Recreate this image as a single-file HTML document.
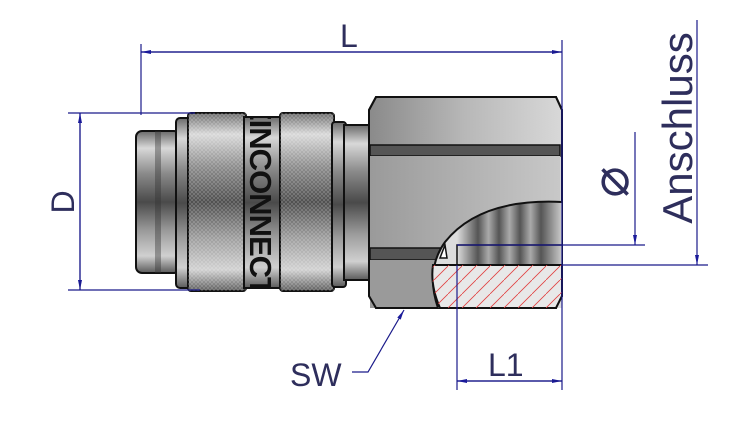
<!DOCTYPE html>
<html><head><meta charset="utf-8"><style>
html,body{margin:0;padding:0;background:#fff;}
svg{display:block}
text{font-family:"Liberation Sans",sans-serif;fill:#2e2e5c}
</style></head><body>
<svg width="752" height="423" viewBox="0 0 752 423" xmlns="http://www.w3.org/2000/svg">
<defs>
<linearGradient id="cyl" x1="0" y1="0" x2="0" y2="1">
<stop offset="0" stop-color="#6a6a6a"/><stop offset="0.12" stop-color="#d8d8d8"/><stop offset="0.3" stop-color="#8a8a8a"/><stop offset="0.5" stop-color="#4a4a4a"/><stop offset="0.7" stop-color="#9a9a9a"/><stop offset="0.88" stop-color="#d0d0d0"/><stop offset="1" stop-color="#5a5a5a"/>
</linearGradient>
<linearGradient id="hexg" x1="0" y1="0" x2="1" y2="0">
<stop offset="0" stop-color="#8a8a8a"/><stop offset="0.5" stop-color="#b8b8b8"/><stop offset="1" stop-color="#d8d8d8"/>
</linearGradient>
<linearGradient id="hexm" x1="0" y1="0" x2="1" y2="0">
<stop offset="0" stop-color="#9a9a9a"/><stop offset="1" stop-color="#c8c8c8"/>
</linearGradient>
<linearGradient id="thr" x1="0" y1="0" x2="1" y2="0">
<stop offset="0" stop-color="#ddd"/><stop offset="0.2" stop-color="#555"/><stop offset="0.3" stop-color="#aaa"/><stop offset="0.4" stop-color="#555"/><stop offset="0.5" stop-color="#aaa"/><stop offset="0.6" stop-color="#555"/><stop offset="0.7" stop-color="#aaa"/><stop offset="0.8" stop-color="#555"/><stop offset="1" stop-color="#ccc"/>
</linearGradient>
<pattern id="knurl" width="4" height="4" patternUnits="userSpaceOnUse">
<path d="M0 4L4 0M0 0L4 4" stroke="#fff" stroke-opacity="0.25" stroke-width="0.7"/>
</pattern>
<pattern id="hatch" width="14" height="14" patternUnits="userSpaceOnUse">
<path d="M-2 16L16 -2" stroke="#e04040" stroke-width="0.8"/>
</pattern>
<clipPath id="cut"><path d="M438 308 Q425 270 445 242 Q480 198 562 202 L562 308 Z"/></clipPath>
<clipPath id="band"><rect x="244" y="117" width="38" height="171"/></clipPath>
<marker id="ar" markerWidth="10" markerHeight="6" refX="10" refY="3" orient="auto" markerUnits="userSpaceOnUse">
<path d="M0 1L10 3L0 5Z" fill="#1a1a9a"/>
</marker>
</defs>

<rect x="136" y="131" width="44" height="142" rx="6" fill="url(#cyl)" stroke="#111" stroke-width="2"/>
<rect x="155" y="131" width="6" height="142" fill="#333" opacity="0.4"/>
<rect x="176" y="118" width="16" height="170" rx="4" fill="url(#cyl)" stroke="#111" stroke-width="2"/>
<rect x="188" y="113" width="58" height="178" rx="3" fill="url(#cyl)" stroke="#111" stroke-width="2"/>
<rect x="188" y="113" width="58" height="178" fill="url(#knurl)"/>
<rect x="244" y="117" width="38" height="171" fill="url(#cyl)" stroke="#111" stroke-width="2"/>
<g clip-path="url(#band)"><text transform="translate(250,100) rotate(90)" font-size="31" font-weight="bold" style="fill:#111;letter-spacing:-1px">EINCONNECT</text></g>
<rect x="280" y="113" width="54" height="178" rx="3" fill="url(#cyl)" stroke="#111" stroke-width="2"/>
<rect x="280" y="113" width="54" height="178" fill="url(#knurl)"/>
<rect x="332" y="122" width="14" height="165" rx="3" fill="url(#cyl)" stroke="#111" stroke-width="2"/>
<rect x="344" y="125" width="30" height="155" fill="url(#cyl)" stroke="#111" stroke-width="2"/>

<path d="M376 97 L556 97 L562 110 L562 296 L556 308 L376 308 L369 296 L369 110 Z" fill="url(#hexg)" stroke="#111" stroke-width="2"/>
<rect x="370" y="145" width="190" height="11" fill="#555" stroke="#111" stroke-width="1.5"/>
<rect x="370" y="156" width="190" height="92" fill="url(#hexm)"/>
<rect x="370" y="248" width="190" height="12" fill="#555" stroke="#111" stroke-width="1.5"/>
<rect x="370" y="260" width="190" height="48" fill="#9a9a9a"/>
<path d="M376 97 L556 97 L562 110 L562 296 L556 308 L376 308 L369 296 L369 110 Z" fill="none" stroke="#111" stroke-width="2"/>
<path d="M438 308 Q425 270 445 242 Q480 198 562 202 L562 308 Z" fill="#ddd"/>
<g clip-path="url(#cut)"><rect x="457" y="195" width="105" height="70" fill="url(#thr)"/></g>
<path d="M438 308 Q425 270 445 242 Q480 198 562 202" fill="none" stroke="#111" stroke-width="2"/>
<path d="M433 265 L457 265 L457 245 L562 245" fill="none" stroke="#111" stroke-width="1.5"/>
<path d="M433 265 L562 265 L562 296 L556 308 L440 308 Q430 285 433 265 Z" fill="#e8e8e8" stroke="#111" stroke-width="2"/>
<path d="M433 265 L562 265 L562 296 L556 308 L440 308 Q430 285 433 265 Z" fill="url(#hatch)"/>
<path d="M440 258 L445 245 L447 258 Z" fill="#fff" stroke="#111" stroke-width="1.5"/>

<g stroke="#1a1a8a" stroke-width="1.2" fill="none">
<line x1="141" y1="44" x2="141" y2="115"/>
<line x1="562" y1="40" x2="562" y2="390"/>
<line x1="141" y1="52" x2="562" y2="52" marker-end="url(#ar)"/>
<line x1="562" y1="52" x2="141" y2="52" marker-end="url(#ar)"/>
<line x1="68" y1="113" x2="195" y2="113"/>
<line x1="68" y1="290" x2="200" y2="290"/>
<line x1="80" y1="113" x2="80" y2="290" marker-end="url(#ar)"/>
<line x1="80" y1="290" x2="80" y2="113" marker-end="url(#ar)"/>
<line x1="457" y1="245" x2="645" y2="245"/>
<line x1="635" y1="132" x2="635" y2="245" marker-end="url(#ar)"/>
<line x1="562" y1="265" x2="708" y2="265"/>
<line x1="697" y1="20" x2="697" y2="265" marker-end="url(#ar)"/>
<line x1="457" y1="265" x2="457" y2="390"/>
<line x1="457" y1="381" x2="562" y2="381" marker-end="url(#ar)"/>
<line x1="562" y1="381" x2="457" y2="381" marker-end="url(#ar)"/>
<polyline points="352,372 368,372 404,310" marker-end="url(#ar)"/>
</g>

<text x="340" y="47" font-size="32">L</text>
<text transform="translate(74,202) rotate(-90)" font-size="32" text-anchor="middle">D</text>
<text transform="translate(628,182) rotate(-90)" font-size="52" text-anchor="middle">⌀</text>
<text transform="translate(692,128) rotate(-90)" font-size="42" text-anchor="middle">Anschluss</text>
<text x="488" y="376" font-size="32">L1</text>
<text x="290" y="386" font-size="32">SW</text>
</svg>
</body></html>
